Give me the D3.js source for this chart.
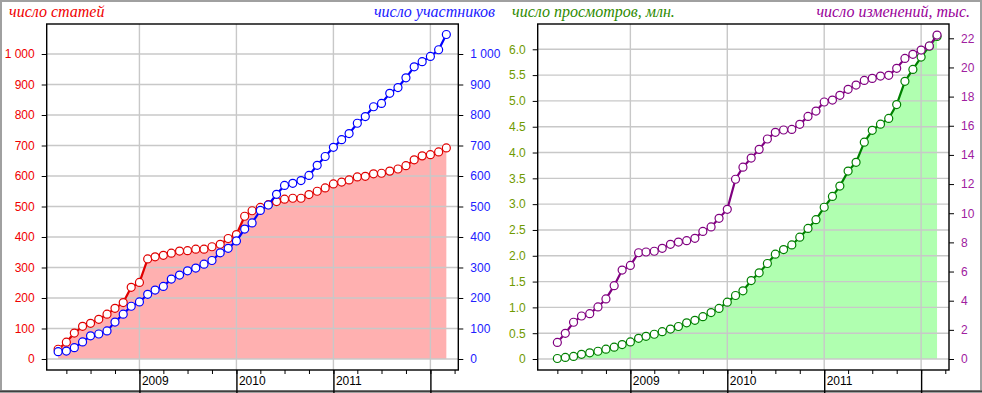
<!DOCTYPE html>
<html><head><meta charset="utf-8">
<script src="https://cdnjs.cloudflare.com/ajax/libs/d3/7.8.5/d3.min.js"></script>
<style>html,body{margin:0;padding:0;background:#fff}svg{display:block}</style>
</head><body>
<svg id="c" width="982" height="393"></svg>
<script>
// ---------- DATA ----------
const months = [
 "2008-03","2008-04","2008-05","2008-06","2008-07","2008-08","2008-09","2008-10","2008-11","2008-12",
 "2009-01","2009-02","2009-03","2009-04","2009-05","2009-06","2009-07","2009-08","2009-09","2009-10","2009-11","2009-12",
 "2010-01","2010-02","2010-03","2010-04","2010-05","2010-06","2010-07","2010-08","2010-09","2010-10","2010-11","2010-12",
 "2011-01","2011-02","2011-03","2011-04","2011-05","2011-06","2011-07","2011-08","2011-09","2011-10","2011-11","2011-12",
 "2012-01","2012-02","2012-03"];
const monthsViews = months.slice(1); // views/edits start in 2008-04

const articles = [32,55,85,107,117,130,147,166,185,235,251,328,335,340,347,354,355,360,360,368,376,395,408,468,486,497,506,516,524,527,527,539,550,561,574,580,587,597,599,607,609,616,623,634,653,666,670,679,692];
const participants = [24,26,37,56,76,82,92,121,147,173,187,212,226,238,262,275,289,298,311,323,348,363,387,426,446,487,505,540,569,576,585,602,635,664,694,719,739,773,795,827,838,871,890,922,958,975,992,1014,1064];
const views = [0.01,0.03,0.05,0.09,0.12,0.15,0.19,0.23,0.28,0.33,0.40,0.44,0.48,0.53,0.58,0.63,0.70,0.75,0.82,0.90,0.98,1.10,1.23,1.32,1.52,1.67,1.85,2.03,2.12,2.21,2.36,2.53,2.70,2.94,3.15,3.35,3.64,3.81,4.20,4.43,4.55,4.66,4.93,5.38,5.61,5.85,6.06,6.25];
const edits = [1.14,1.76,2.52,2.95,3.11,3.57,4.12,5.03,6.10,6.42,7.29,7.34,7.39,7.59,7.87,8.02,8.12,8.28,8.75,9.06,9.65,10.27,12.33,13.16,13.78,14.38,15.09,15.55,15.71,15.75,16.10,16.64,17.01,17.63,17.76,18.09,18.50,18.79,19.11,19.25,19.41,19.46,19.94,20.62,20.90,21.19,21.47,22.22];

const yearLabels = ["2009","2010","2011"];
const yearLines = ["2009","2010","2011","2012"];
const leftTicksA = [0,100,200,300,400,500,600,700,800,900,1000];
const rightTicksA = [0,100,200,300,400,500,600,700,800,900,1000];
const leftTicksB = [0,0.5,1.0,1.5,2.0,2.5,3.0,3.5,4.0,4.5,5.0,5.5,6.0];
const rightTicksB = [0,2,4,6,8,10,12,14,16,18,20,22];

const titles = {
  a: "число статей", b: "число участников",
  c: "число просмотров, млн.", d: "число изменений, тыс."
};

// ---------- DRAW ----------
const svg = d3.select("#c");
const parseM = d3.timeParse("%Y-%m");
const parseY = d3.timeParse("%Y");
const TOP = 24, BOT = 370, H = 393;
const xDomain = [new Date(2008,0,18), new Date(2012,3,15)];
const fmtSpace = d3.formatLocale({decimal:".", thousands:"\u00a0", grouping:[3], currency:["",""]}).format(",");

// outer frame
svg.append("rect").attr("x",1).attr("y",1).attr("width",980).attr("height",390)
  .attr("fill","#fff").attr("stroke","#a0a0a0").attr("stroke-width",2);
svg.append("line").attr("x1",0).attr("x2",982).attr("y1",391.5).attr("y2",391.5)
  .attr("stroke","#404040").attr("stroke-width",2);

function range(a,b,s){ const r=[]; for(let v=a; v<=b+1e-9; v+=s) r.push(+v.toFixed(6)); return r; }

function panel(cfg){
  const x = d3.scaleTime().domain(xDomain).range([cfg.x0, cfg.x1]);
  const yL = d3.scaleLinear().domain(cfg.lDomain).range([BOT, TOP]);
  const yR = d3.scaleLinear().domain(cfg.rDomain).range([BOT, TOP]);
  const g = svg.append("g");
  const dates = cfg.months.map(parseM);

  // fill area under the left-axis series
  const fillData = dates.map((d,i)=>[d, cfg.fillValues[i]]);
  g.append("path").datum(fillData)
    .attr("fill", cfg.fillColor)
    .attr("d", d3.area().x(d=>x(d[0])).y0(yL(0)).y1(d=>yL(d[1])));

  // grid
  g.append("g").selectAll("line").data(cfg.lTicks).join("line")
    .attr("x1",cfg.x0).attr("x2",cfg.x1)
    .attr("y1",d=>yL(d)).attr("y2",d=>yL(d))
    .attr("stroke","#c8c8c8").attr("stroke-width",1.4);
  g.append("g").selectAll("line").data(yearLines.map(parseY)).join("line")
    .attr("x1",d=>x(d)).attr("x2",d=>x(d))
    .attr("y1",TOP).attr("y2",BOT)
    .attr("stroke","#c8c8c8").attr("stroke-width",1.4);

  // series
  cfg.series.forEach(s=>{
    const y = s.axis==="L" ? yL : yR;
    const pts = dates.map((d,i)=>[d, s.values[i]]);
    g.append("path").datum(pts)
      .attr("fill","none").attr("stroke",s.color).attr("stroke-width",2.2)
      .attr("d", d3.line().x(d=>x(d[0])).y(d=>y(d[1])));
    g.append("g").selectAll("circle").data(pts).join("circle")
      .attr("cx",d=>x(d[0])).attr("cy",d=>y(d[1])).attr("r",4)
      .attr("fill","#fff").attr("stroke",s.color).attr("stroke-width",1.2);
  });

  // border
  g.append("rect").attr("x",cfg.x0).attr("y",TOP)
    .attr("width",cfg.x1-cfg.x0).attr("height",BOT-TOP)
    .attr("fill","none").attr("stroke","#000").attr("stroke-width",1.4);

  // left axis
  const la = g.append("g").attr("transform",`translate(${cfg.x0},0)`);
  la.call(d3.axisLeft(yL).tickValues(cfg.lMinor).tickSize(3).tickFormat(""));
  la.call(d3.axisLeft(yL).tickValues(cfg.lTicks).tickSize(5).tickPadding(7).tickFormat(cfg.lFmt));
  la.selectAll(".domain").remove();
  la.selectAll("text").attr("fill",cfg.lColor).style("font","12px 'Liberation Sans', Arial, sans-serif");

  const ra = g.append("g").attr("transform",`translate(${cfg.x1},0)`);
  ra.call(d3.axisRight(yR).tickValues(cfg.rMinor).tickSize(3).tickFormat(""));
  ra.call(d3.axisRight(yR).tickValues(cfg.rTicks).tickSize(5).tickPadding(7).tickFormat(cfg.rFmt));
  ra.selectAll(".domain").remove();
  ra.selectAll("text").attr("fill",cfg.rColor).style("font","12px 'Liberation Sans', Arial, sans-serif");

  // bottom axis: quarter ticks + year lines
  const ba = g.append("g").attr("transform",`translate(0,${BOT})`);
  ba.call(d3.axisBottom(x).ticks(d3.timeMonth.every(3)).tickSize(4).tickFormat(""));
  ba.selectAll(".domain").remove();
  const ya = g.append("g").attr("transform",`translate(0,${BOT})`);
  ya.call(d3.axisBottom(x).tickValues(yearLines.map(parseY)).tickSize(H-BOT).tickFormat(""));
  ya.selectAll(".domain").remove();
  ya.selectAll("line").attr("stroke-width",1.4);
  g.append("g").selectAll("text").data(yearLabels).join("text")
    .attr("x",d=>x(parseY(d))+2.5).attr("y",385)
    .attr("fill","#000").style("font","12px 'Liberation Sans', Arial, sans-serif")
    .text(d=>d);

  // titles
  g.append("text").attr("x",cfg.tl.x).attr("y",17).attr("fill",cfg.tl.color)
    .style("font","italic 16px 'Liberation Serif', 'Times New Roman', serif").text(cfg.tl.text);
  g.append("text").attr("x",cfg.tr.x).attr("y",17).attr("text-anchor","end").attr("fill",cfg.tr.color)
    .style("font","italic 16px 'Liberation Serif', 'Times New Roman', serif").text(cfg.tr.text);
}

panel({
  x0:46.7, x1:458.3, months: months,
  lDomain:[-36.1,1098.4], rDomain:[-36.1,1098.4],
  lTicks:leftTicksA, rTicks:rightTicksA,
  lMinor:range(0,1080,20), rMinor:range(0,1080,20),
  lFmt:fmtSpace, rFmt:fmtSpace,
  lColor:"#f00000", rColor:"#2020ff",
  fillValues:articles, fillColor:"#ffb0b0",
  series:[{values:articles,color:"#e00000",axis:"L"},{values:participants,color:"#0000ff",axis:"R"}],
  tl:{x:9,text:titles.a,color:"#f00000"}, tr:{x:495,text:titles.b,color:"#2020ff"}
});
panel({
  x0:537.7, x1:949, months: monthsViews,
  lDomain:[-0.213,6.49], rDomain:[-0.754,22.98],
  lTicks:leftTicksB, rTicks:rightTicksB,
  lMinor:range(0,6.4,0.1), rMinor:range(0,22,1),
  lFmt:d=>d===0?"0":d3.format(".1f")(d), rFmt:d=>String(d),
  lColor:"#6f9a00", rColor:"#a020a0",
  fillValues:views, fillColor:"#b0ffb0",
  series:[{values:views,color:"#008000",axis:"L"},{values:edits,color:"#800080",axis:"R"}],
  tl:{x:512,text:titles.c,color:"#2e8b00"}, tr:{x:970,text:titles.d,color:"#990099"}
});
</script>
</body></html>
